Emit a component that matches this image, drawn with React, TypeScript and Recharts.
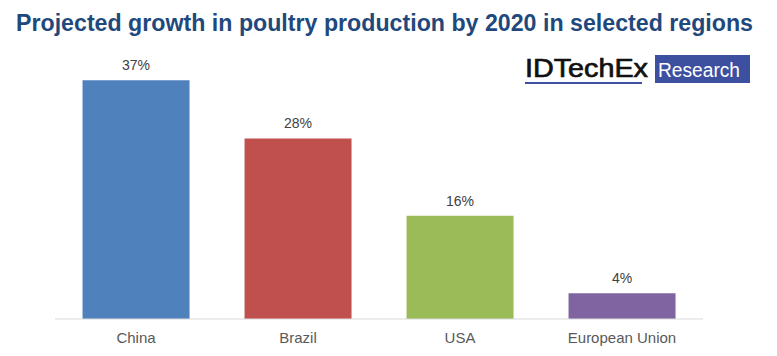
import { Bar, BarChart, Cell, LabelList, XAxis, YAxis } from 'recharts'

const regions = ['China', 'Brazil', 'USA', 'European Union']
const growth = [37, 28, 16, 4]
const barColors = ['#4F81BD', '#C0504D', '#9BBB59', '#8064A2']

const data = regions.map((name, i) => ({ name, growth: growth[i] }))

const font = '"Liberation Sans", Arial, sans-serif'

export default function App() {
    return (
        <div
            style={{
                position: 'absolute',
                left: 0,
                top: 0,
                width: 777,
                height: 356,
                background: '#fff',
                fontFamily: font,
            }}
        >
            <BarChart
                width={777}
                height={356}
                data={data}
                margin={{ top: 61, right: 74, left: 55, bottom: 7 }}
                barCategoryGap="17%"
            >
                <XAxis
                    dataKey="name"
                    axisLine={{ stroke: '#D9D9D9' }}
                    tickLine={false}
                    tickSize={0}
                    tickMargin={13}
                    height={30}
                    tick={{ fill: '#595959', fontSize: 15, fontFamily: font }}
                />
                <YAxis hide domain={[0, 40]} width={0} />
                <Bar dataKey="growth" isAnimationActive={false}>
                    {data.map((d, i) => (
                        <Cell key={d.name} fill={barColors[i]} />
                    ))}
                    <LabelList
                        dataKey="growth"
                        position="top"
                        offset={10}
                        formatter={(v: number) => `${v}%`}
                        style={{ fill: '#404040', fontSize: 14, fontFamily: font }}
                    />
                </Bar>
            </BarChart>

            <svg
                width={777}
                height={100}
                style={{ position: 'absolute', left: 0, top: 0, pointerEvents: 'none' }}
            >
                <text
                    x={16}
                    y={31}
                    fontFamily={font}
                    fontWeight="bold"
                    fontSize={23}
                    fill="#1F497D"
                    textLength={737}
                    lengthAdjust="spacingAndGlyphs"
                >
                    Projected growth in poultry production by 2020 in selected regions
                </text>
                <text
                    x={525}
                    y={77}
                    fontFamily={font}
                    fontSize={26}
                    fill="#111"
                    stroke="#111"
                    strokeWidth={0.7}
                    textLength={123}
                    lengthAdjust="spacingAndGlyphs"
                >
                    IDTechEx
                </text>
                <rect x={525} y={82} width={117} height={2} fill="#3D4F9F" />
                <rect x={655} y={55} width={95} height={28} fill="#3D4F9F" />
                <text
                    x={658}
                    y={77}
                    fontFamily={font}
                    fontSize={20}
                    fill="#fff"
                    textLength={82}
                    lengthAdjust="spacingAndGlyphs"
                >
                    Research
                </text>
            </svg>
        </div>
    )
}
